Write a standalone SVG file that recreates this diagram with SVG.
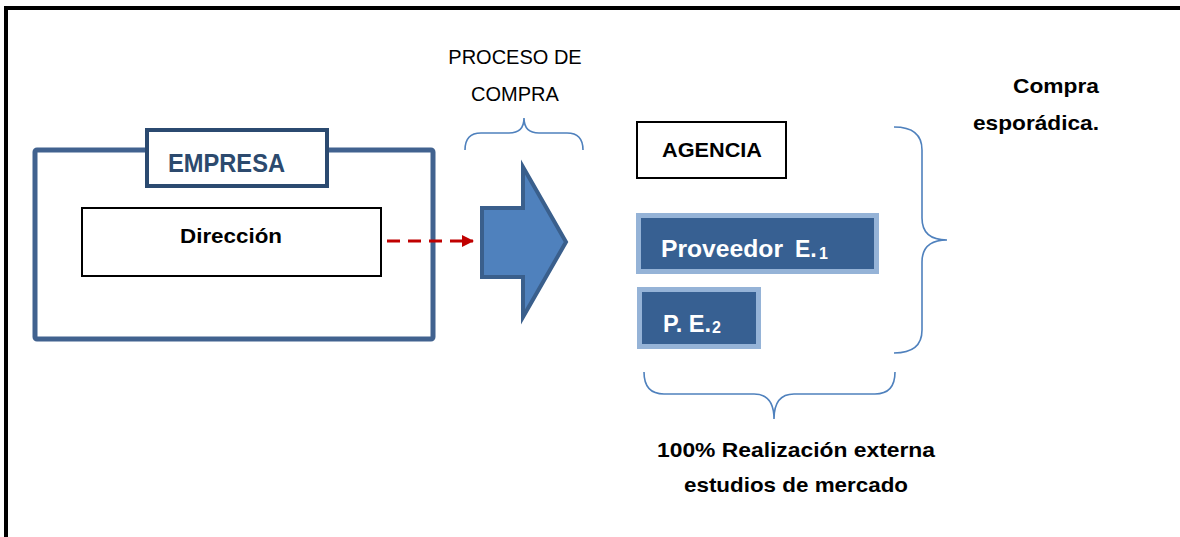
<svg xmlns="http://www.w3.org/2000/svg" width="1180" height="537" viewBox="0 0 1180 537">
  <defs>
    <marker id="redArrow" markerWidth="12" markerHeight="12" refX="11" refY="6" orient="auto" markerUnits="userSpaceOnUse">
      <path d="M0,0 L12,6 L0,12 Z" fill="#c00000"/>
    </marker>
    <style>
      .b { font-family: "Liberation Sans", Arial, sans-serif; font-weight: bold; fill: #000; }
      .r { font-family: "Liberation Sans", Arial, sans-serif; fill: #000; }
      .w { font-family: "Liberation Sans", Arial, sans-serif; font-weight: bold; fill: #fff; }
      .brace { fill: none; stroke: #4f81bd; stroke-width: 1.6; }
      .pe { fill: #376092; stroke: #95b3d7; stroke-width: 5; }
    </style>
  </defs>
  <rect width="1180" height="537" fill="#fff"/>
  <g id="frame">
    <line x1="4" y1="8" x2="1180" y2="8" stroke="#000" stroke-width="4"/>
    <line x1="6" y1="6" x2="6" y2="537" stroke="#000" stroke-width="4"/>
  </g>

  <g id="empresa">
    <rect x="35" y="150" width="398" height="189" rx="2" fill="#fff" stroke="#41628f" stroke-width="5"/>
    <rect x="147" y="130" width="180" height="56" fill="#fff" stroke="#2b4a70" stroke-width="4"/>
    <text x="168" y="172" class="b" style="fill:#2c4a6e" font-size="25" textLength="117" lengthAdjust="spacingAndGlyphs">EMPRESA</text>
  </g>

  <g id="direccion">
    <rect x="82" y="208" width="299" height="68" fill="#fff" stroke="#000" stroke-width="2"/>
    <text x="180" y="243" class="b" font-size="21" textLength="102" lengthAdjust="spacingAndGlyphs">Dirección</text>
  </g>

  <g id="proceso-compra">
    <text x="515" y="64" class="r" font-size="20" text-anchor="middle">PROCESO DE</text>
    <text x="515" y="101" class="r" font-size="20" text-anchor="middle">COMPRA</text>
    <path class="brace" d="M465,150 Q465,133 481,133 L509,133 Q524,133 524,118 Q524,133 539,133 L567,133 Q583,133 583,150"/>
    <path d="M482,208 L523,208 L523,167 L566,242 L523,317 L523,277 L482,277 Z" fill="#4f81bd" stroke="#3a5f8c" stroke-width="4" stroke-linejoin="miter"/>
  </g>

  <g id="agencia">
    <rect x="637" y="122" width="149" height="56" fill="#fff" stroke="#000" stroke-width="2"/>
    <text x="662" y="157" class="b" font-size="21" textLength="100" lengthAdjust="spacingAndGlyphs">AGENCIA</text>
  </g>

  <g id="proveedor-e1">
    <rect x="638.5" y="215.5" width="238" height="56" class="pe"/>
    <text class="w" font-size="23" y="257"><tspan x="661" textLength="122" lengthAdjust="spacingAndGlyphs">Proveedor</tspan><tspan x="795">E.</tspan><tspan x="819" y="259" font-size="16">1</tspan></text>
  </g>

  <g id="pe2">
    <rect x="639.5" y="289.5" width="119" height="57" class="pe"/>
    <text class="w" font-size="23" y="332"><tspan x="663" textLength="48" lengthAdjust="spacingAndGlyphs">P. E.</tspan><tspan x="712" y="333" font-size="16">2</tspan></text>
  </g>

  <g id="compra-esporadica">
    <path class="brace" d="M894,127 Q922,127 922,150 L922,218 Q922,240 947,240 Q922,240 922,262 L922,330 Q922,353 894,353"/>
    <text x="1013" y="93" class="b" font-size="21" textLength="86" lengthAdjust="spacingAndGlyphs">Compra</text>
    <text x="973" y="130" class="b" font-size="21" textLength="126" lengthAdjust="spacingAndGlyphs">esporádica.</text>
  </g>

  <g id="realizacion-externa">
    <path class="brace" d="M644,372 Q644,394 664,394 L754,394 Q774,394 774,419 Q774,394 794,394 L875,394 Q895,394 895,372"/>
    <text x="657" y="457" class="b" font-size="21" textLength="278" lengthAdjust="spacingAndGlyphs">100% Realización externa</text>
    <text x="684" y="492" class="b" font-size="21" textLength="224" lengthAdjust="spacingAndGlyphs">estudios de mercado</text>
  </g>

  <g id="connectors">
    <line x1="387" y1="241" x2="473" y2="241" stroke="#c00000" stroke-width="3" stroke-dasharray="13,8" marker-end="url(#redArrow)"/>
  </g>
</svg>
